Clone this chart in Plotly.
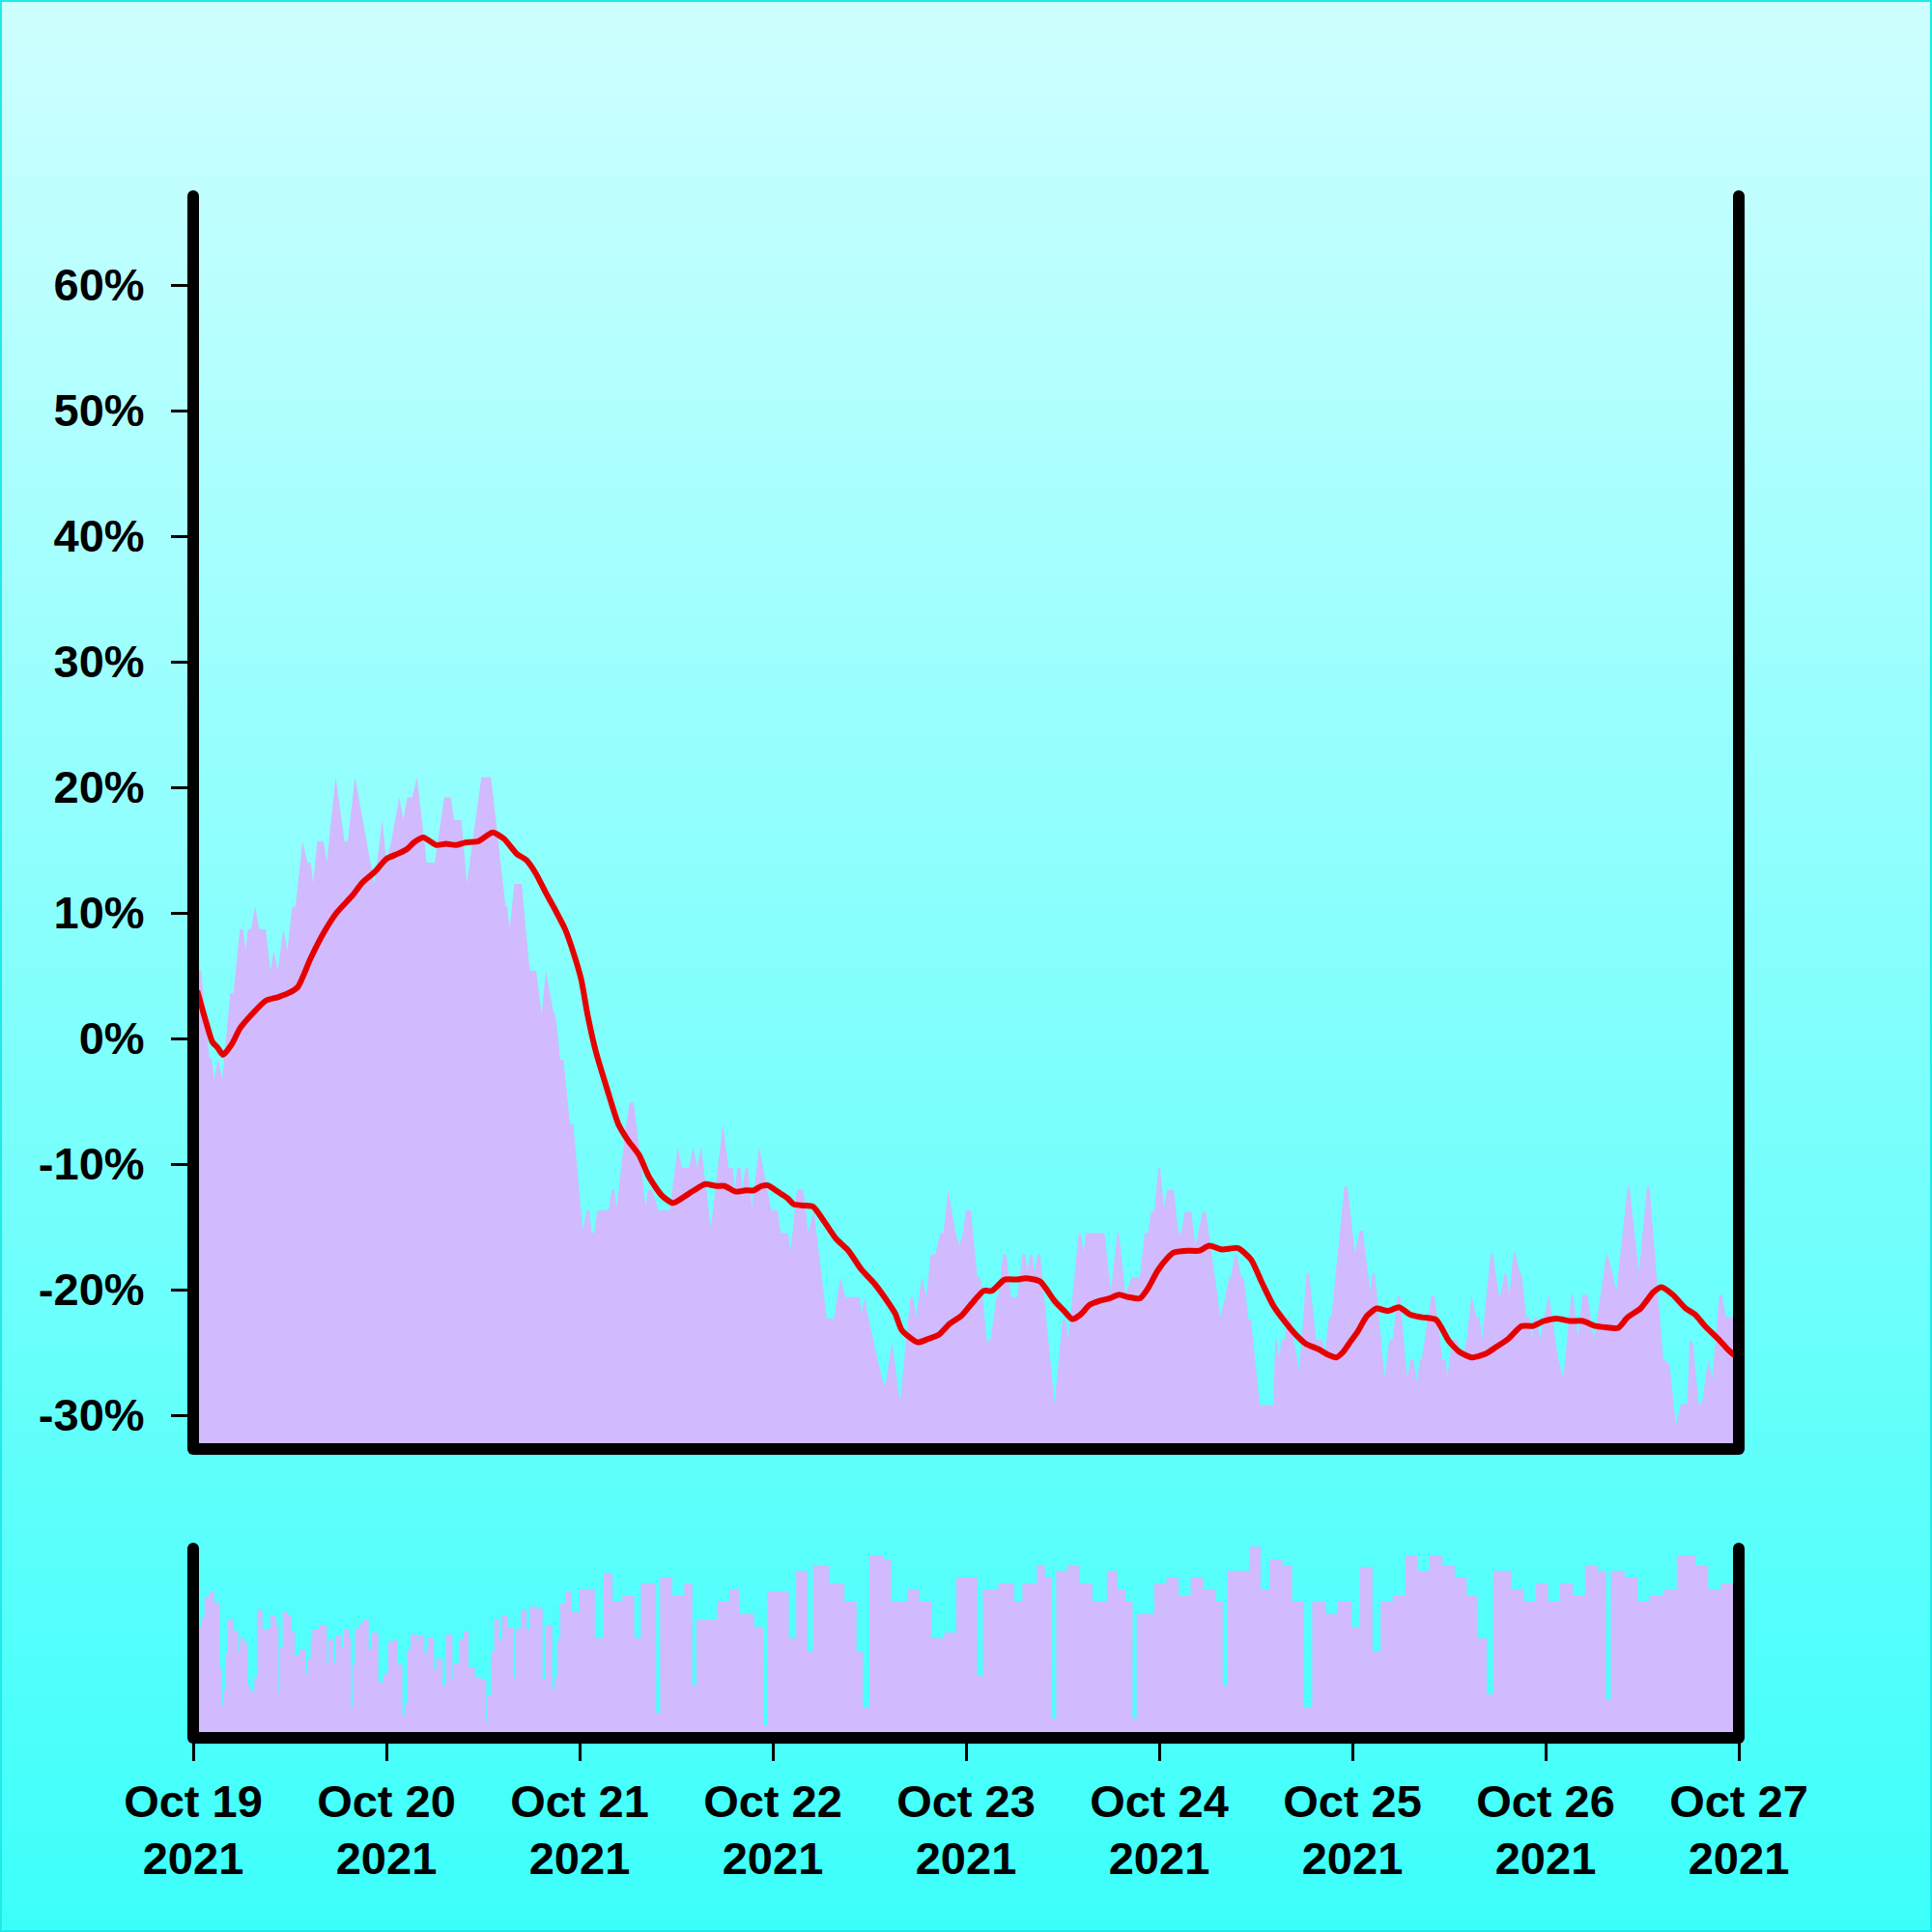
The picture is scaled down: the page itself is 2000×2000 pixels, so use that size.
import plotly.graph_objects as go
from datetime import datetime, timedelta

START = datetime(2021, 10, 19)

# ---- main series: % change, vertices (hours since Oct 19 00:00) ----
area_hours = [0, 1.0, 2.0, 2.3, 2.6, 3.1, 3.6, 4.6, 5.0, 5.8, 6.2, 6.5, 6.8, 7.2, 7.7, 8.2, 9.0, 9.6, 10.0, 10.5,
              11.2, 11.7, 12.3, 12.7, 13.6, 14.2, 14.6, 14.9, 15.4, 16.2, 16.6, 17.7, 18.8, 19.2, 20.1, 22.0, 22.5,
              23.5, 24.0, 24.6, 25.6, 26.1, 26.6, 27.2, 27.8, 29.0, 30.0, 31.2, 32.0, 32.4, 33.3, 34.0, 35.8, 37.0,
              38.8, 39.0, 39.3, 39.9, 40.8, 41.8, 42.6, 43.3, 43.8, 44.8, 45.0, 45.6, 46.0, 46.8, 47.2,
              48.4, 48.9, 49.2, 49.5, 49.8, 50.2, 51.6, 52.0, 52.3, 52.6, 53.8, 54.2, 54.7, 55.4, 56.2, 56.5, 57.0,
              57.8, 59.2, 60.2, 60.7, 61.6, 62.1, 62.6, 63.1, 64.3, 65.8, 66.5, 67.0, 67.3, 67.6, 68.0, 68.2, 68.6,
              68.9, 69.4, 70.3, 71.8, 72.6, 73.0, 73.9, 74.2, 75.0, 75.8, 76.4, 77.1, 78.7, 79.6, 80.4, 81.0, 82.8,
              83.0, 83.4, 83.9, 85.1, 85.8, 86.0, 86.8, 87.8, 89.1, 89.4, 89.8, 90.5, 91.1, 91.6, 92.2, 92.8, 93.2,
              93.8, 94.7, 95.2, 95.6,
              96.0, 96.6, 97.4, 97.8, 98.6, 99.0, 99.8, 100.0, 100.6, 101.0, 101.6, 102.4, 103.0, 103.4, 103.6,
              104.0, 104.2, 104.5, 104.9, 105.2, 107.0, 108.0, 108.4, 108.7, 110.0, 110.2, 110.6, 110.9, 113.2,
              114.0, 114.8, 115.0, 115.8, 116.6, 117.6, 118.2, 118.6, 119.0, 119.4, 119.9, 120.1, 120.6, 121.0,
              121.8, 122.4, 122.7, 123.2, 124.0, 124.5, 125.4, 125.8, 127.6, 128.2, 128.7, 128.9, 129.4, 129.6,
              130.2, 130.5, 131.1, 131.4, 132.5, 134.2, 134.4, 134.6, 134.9, 135.2, 135.6, 136.0, 136.2, 137.4,
              138.3, 138.6, 139.5, 140.2, 140.6, 141.1, 141.4, 143.0, 143.4, 144.3, 144.9, 145.3, 146.2, 146.5,
              146.8, 148.0, 148.6, 149.0, 149.6, 149.9, 150.8, 151.2, 151.6, 152.0, 152.4, 152.6, 153.8, 154.2,
              155.2, 155.6, 155.8, 156.4, 157.0, 157.6, 158.2, 158.8, 159.4, 159.8, 160.1, 161.2, 161.4, 162.2,
              162.4, 162.9, 163.1, 163.5, 164.0, 164.2, 164.8, 165.0, 165.6, 166.0, 166.3, 166.6, 166.9, 167.3,
              168.4, 168.8, 169.6, 170.2, 171.2, 171.4, 172.0, 172.6, 173.2, 174.0, 174.4, 175.6, 176.3, 176.8,
              178.2, 178.4, 179.6, 180.6, 180.9, 182.6, 183.4, 184.2, 184.8, 185.6, 185.9, 186.3, 187.0, 187.4,
              188.2, 188.7, 189.6, 189.9, 190.4, 192.0]
area_pct = [5.4, 5.4, -1.6, -1.6, -3.3, -1.6, -3.3, 3.6, 3.6, 8.7, 8.7, 7.0, 8.7, 8.7, 10.5, 8.7, 8.7, 5.4, 7.0, 5.4,
            8.7, 7.0, 10.5, 10.5, 15.7, 14.0, 14.0, 12.3, 15.7, 15.7, 14.0, 20.8, 15.7, 15.7, 20.8, 14.0, 12.3,
            17.4, 14.0, 15.7, 19.2, 17.4, 19.2, 19.2, 20.8, 14.0, 14.0, 19.2, 19.2, 17.4, 17.4, 12.3, 20.8, 20.8,
            10.5, 10.5, 8.7, 12.3, 12.3, 5.4, 5.4, 1.9, 5.4, 1.9, 1.9, -1.7, -1.7, -6.8, -6.8,
            -15.3, -13.7, -13.7, -15.5, -15.5, -13.7, -13.7, -12.05, -12.05, -13.5, -6.8, -5.1, -5.1, -8.6, -13.5,
            -12.05, -12.05, -13.7, -13.7, -8.6, -10.3, -10.3, -8.6, -10.3, -8.6, -15.1, -6.8, -10.3, -10.3, -12.05,
            -10.3, -10.3, -12.05, -10.3, -10.3, -13.5, -8.6, -13.7, -13.7, -15.5, -15.5, -16.9, -12.05, -12.05,
            -15.5, -13.7, -22.3, -22.3, -19.0, -20.6, -20.6, -22.05, -20.6, -22.3, -25.8, -27.6, -27.6, -24.1,
            -29.0, -20.6, -20.6, -22.2, -19.0, -20.6, -17.2, -17.2, -15.5, -15.5, -12.05, -15.5, -16.5, -15.5,
            -13.7, -13.7, -19.0, -19.0, -24.1, -24.1, -20.6, -20.6, -17.2, -17.2, -20.6, -20.6, -17.2, -17.2,
            -18.6, -17.2, -17.2, -18.6, -17.2, -17.2, -29.1, -22.4, -22.4, -24.0, -15.5, -15.5, -17.05, -15.5,
            -15.5, -20.1, -15.5, -15.5, -20.4, -19.0, -19.0, -15.5, -15.5, -13.8, -13.8, -10.3, -10.3, -13.5,
            -12.05, -12.05, -15.5, -15.5, -13.8, -13.8, -16.5, -13.8, -13.8, -22.2, -20.6, -19.0, -19.0, -17.2,
            -17.2, -19.0, -19.0, -22.4, -22.4, -29.2, -29.2, -24.0, -24.0, -25.5, -24.0, -24.0, -22.2, -22.2,
            -26.5, -18.7, -18.7, -24.0, -24.0, -25.0, -22.2, -22.2, -11.8, -11.8, -17.05, -15.3, -15.3, -20.1,
            -18.7, -18.7, -27.05, -24.0, -24.0, -20.5, -20.5, -27.05, -25.6, -25.6, -27.3, -25.6, -25.6, -20.5,
            -20.5, -25.6, -25.6, -27.05, -24.0, -24.0, -25.6, -24.0, -20.4, -22.2, -22.2, -24.0, -17.05, -17.05,
            -20.4, -20.4, -18.7, -18.7, -20.4, -17.05, -17.05, -18.7, -18.7, -22.2, -22.2, -24.0, -22.2, -22.2,
            -24.0, -20.4, -22.2, -25.6, -27.05, -20.4, -20.4, -23.8, -20.4, -20.4, -24.0, -22.2, -17.05, -18.7,
            -20.1, -11.8, -11.8, -18.6, -11.8, -11.8, -25.5, -26.0, -30.8, -29.1, -29.1, -24.0, -24.3, -29.1,
            -29.1, -25.6, -27.05, -20.4, -20.4, -22.2, -22.2]

# ---- moving average (red line) ----
ma_hours = [0.5, 1.6, 2.4, 3.0, 3.7, 4.8, 5.8, 7.4, 9.0, 10.6, 11.8, 13.0, 14.6, 16.2, 17.8, 19.8, 21.0, 22.6, 24.0,
            25.4, 26.6, 27.4, 28.6, 30.2, 31.4, 32.6, 33.8, 35.4, 37.2, 38.6, 40.2, 41.4, 42.6, 43.8, 45.0, 46.2,
            47.2, 48.2, 49.0, 50.0, 51.4, 52.8, 54.0, 55.4, 56.6, 58.2, 59.6, 61.0, 62.2, 63.6, 65.0, 66.0, 67.4,
            68.6, 69.6, 70.6, 71.4, 72.6, 73.8, 74.6, 75.8, 77.0, 78.2, 79.8, 81.4, 83.0, 84.6, 86.2, 87.2, 88.0,
            89.0, 90.0, 91.4, 92.6, 94.0, 95.4, 96.6, 98.2, 99.2, 100.8, 102.4, 103.4, 105.2, 107.0, 108.2, 109.2,
            110.2, 111.4, 112.6, 113.8, 115.0, 116.2, 117.6, 118.6, 119.8, 121.0, 121.8, 123.4, 125.0, 126.2,
            127.8, 129.8, 131.4, 132.8, 134.2, 135.8, 137.0, 138.2, 139.8, 141.0, 142.0, 142.8, 143.8, 144.6,
            145.8, 147.0, 148.4, 149.8, 151.2, 152.6, 154.4, 156.0, 157.4, 158.8, 160.6, 161.8, 163.4, 165.0,
            166.4, 167.8, 169.4, 171.0, 172.6, 174.2, 175.4, 177.0, 178.2, 179.8, 181.4, 182.4, 183.8, 185.4,
            186.6, 187.8, 189.4, 190.4, 191.2, 192.0]
ma_pct = [3.8, 1.3, -0.3, -0.7, -1.3, -0.45, 0.8, 2.0, 3.0, 3.3, 3.6, 4.1, 6.4, 8.4, 10.0, 11.4, 12.4, 13.3, 14.3,
          14.7, 15.1, 15.6, 16.0, 15.4, 15.5, 15.4, 15.6, 15.7, 16.4, 15.9, 14.7, 14.2, 13.1, 11.6, 10.2, 8.7,
          6.9, 4.7, 1.85, -1.0, -4.0, -6.8, -8.1, -9.3, -11.0, -12.5, -13.1, -12.6, -12.1, -11.6, -11.75, -11.75,
          -12.2, -12.1, -12.1, -11.75, -11.7, -12.2, -12.7, -13.2, -13.3, -13.4, -14.4, -15.9, -16.9, -18.4,
          -19.5, -20.9, -21.9, -23.2, -23.8, -24.2, -23.9, -23.6, -22.7, -22.1, -21.2, -20.1, -20.1, -19.2,
          -19.2, -19.1, -19.35, -20.9, -21.7, -22.35, -22.0, -21.2, -20.9, -20.7, -20.4, -20.6, -20.7, -19.9,
          -18.5, -17.5, -17.05, -16.9, -16.9, -16.5, -16.8, -16.7, -17.6, -19.5, -21.3, -22.7, -23.6, -24.3,
          -24.75, -25.2, -25.4, -25.0, -24.1, -23.4, -22.1, -21.5, -21.7, -21.4, -22.0, -22.2, -22.4, -24.1,
          -25.0, -25.4, -25.1, -24.6, -23.9, -22.9, -22.9, -22.5, -22.3, -22.5, -22.5, -22.9, -23.0, -23.05,
          -22.2, -21.5, -20.2, -19.8, -20.4, -21.5, -22.0, -22.9, -23.9, -24.6, -25.1, -25.5]

# ---- volume panel (step heights, arbitrary units) ----
vol_hours = [0, 1.0, 1.4, 2.0, 2.6, 3.28, 3.6, 3.8, 4.08, 4.32, 5.0, 5.6, 5.8, 6.4, 6.72, 7.12, 7.6, 7.92, 8.6, 9.4,
             9.6, 10.32, 10.6, 10.8, 11.12, 11.68, 12.2, 12.6, 13.2, 13.92, 14.2, 14.6, 14.8, 15.6, 16.2, 16.6, 16.8,
             17.4, 17.68, 18.4, 18.72, 19.4, 19.6, 19.8, 20.08, 20.6, 21.12, 21.8, 22.2, 23.0, 23.4, 23.6, 24.2,
             24.72, 25.4, 26.0, 26.32, 26.6, 27.0, 27.8, 28.0, 28.72, 29.0, 29.2, 29.92, 30.2, 31.0, 31.4, 32.2,
             32.4, 33.0, 33.6, 34.2, 35.0, 35.8, 36.4, 36.6, 37.0, 37.4, 38.0, 38.4, 39.0, 39.8, 40.0, 40.72, 41.4,
             41.8, 42.6, 43.4, 43.8, 44.6, 44.88, 45.2, 45.6, 46.2, 47.0,
             48.0, 49.9, 51.0, 52.1, 53.3, 54.8, 55.6, 57.5, 58.0, 59.5, 61.0, 62.0, 62.5, 65.1, 66.6, 67.8, 69.7,
             70.8, 71.3, 74.0, 74.9, 76.3, 77.0, 79.0, 80.9, 82.4, 83.2, 84.0, 85.8, 86.7, 88.7, 90.2, 91.7, 93.3,
             94.8, 97.4, 98.1, 100.0, 102.0, 103.0, 104.8, 105.8, 106.7, 107.2, 108.6, 110.1, 111.7, 113.5, 114.8,
             115.8, 116.7, 117.2, 119.4, 120.9, 122.4, 123.9, 125.5, 127.0, 127.9, 128.5, 131.2, 132.6, 133.7,
             135.3, 136.5, 138.0, 139.0, 140.7, 142.2, 143.9, 144.9, 146.5, 147.5, 149.0, 150.6, 152.1, 153.6,
             155.2, 156.7, 158.2, 159.5, 160.7, 161.5, 163.8, 165.3, 166.8, 168.3, 169.8, 171.4, 172.9, 174.5,
             175.5, 176.1, 177.8, 179.4, 180.9, 182.7, 184.3, 186.6, 188.2, 189.8, 192.0]
vol_values = [112, 122, 144, 150, 138, 71, 32, 47, 85, 121, 109, 88, 101, 96, 52, 46, 61, 130, 110, 112, 125, 114,
              45, 91, 129, 125, 108, 84, 90, 64, 80, 101, 110, 115, 114, 75, 100, 76, 104, 91, 110, 101, 30, 74,
              111, 117, 120, 89, 107, 57, 54, 64, 97, 99, 74, 22, 34, 89, 105, 99, 104, 85, 92, 102, 69, 80, 52,
              105, 58, 75, 100, 108, 71, 61, 58, 14, 42, 87, 121, 99, 125, 112, 60, 111, 130, 110, 134, 132, 58,
              115, 48, 60, 99, 137, 150, 128,
              152, 101, 168, 139, 145, 101, 158, 24, 164, 145, 158, 52, 120, 139, 152, 126, 113,
              11, 150, 101, 171, 88, 177, 158, 139, 88, 30, 187, 183, 139, 152, 139, 101, 107,
              164, 62, 152, 158, 139, 158, 177, 164, 18, 171, 177, 158, 139, 171, 152,
              139, 18, 126, 158, 164, 145, 164, 152, 139, 52, 171, 196, 152, 183,
              177, 139, 30, 139, 126, 139, 113, 175, 88, 139, 145, 187, 171, 187,
              177, 164, 145, 101, 43, 171, 152, 139, 158, 139, 158, 145, 177, 171,
              37, 171, 164, 139, 145, 152, 187, 177, 152, 158, 158]

tick_days = ["2021-10-19", "2021-10-20", "2021-10-21", "2021-10-22", "2021-10-23",
             "2021-10-24", "2021-10-25", "2021-10-26", "2021-10-27"]
y_tick_vals = [-0.3, -0.2, -0.1, 0.0, 0.1, 0.2, 0.3, 0.4, 0.5, 0.6]


def to_dt(hours):
    return [START + timedelta(hours=h) for h in hours]


area_x = to_dt(area_hours)
area_y = [v / 100 for v in area_pct]
ma_x = to_dt(ma_hours)
ma_y = [v / 100 for v in ma_pct]
vol_x = to_dt(vol_hours)
vol_y = vol_values
tick_dates = [datetime.strptime(d, "%Y-%m-%d") for d in tick_days]
day_text = [f"{d:%b} {d.day}" for d in tick_dates]
year_text = [f"{d.year}" for d in tick_dates]
y_tick_text = [f"{round(v * 100)}%" for v in y_tick_vals]  # plain hyphen minus

W = H = 2000
L, R, T, B = 200, 200, 197, 201
plot_w = W - L - R
plot_h = H - T - B
main_bottom_px = 1500
vol_top_px = 1597
main_dom = [(H - B - main_bottom_px) / plot_h, 1.0]
vol_dom = [0.0, (H - B - vol_top_px) / plot_h]

LAV = "#D1BAFE"
FONT = dict(family="Liberation Sans, Arial, sans-serif", size=47, color="black", weight="bold")

fig = go.Figure()
# baseline for area fill (well below visible range)
fig.add_trace(go.Scatter(x=[area_x[0], area_x[-1]], y=[-0.6, -0.6], mode="lines",
                         line=dict(width=0, color=LAV), hoverinfo="skip", showlegend=False))
fig.add_trace(go.Scatter(x=area_x, y=area_y, mode="lines", fill="tonexty", fillcolor=LAV,
                         line=dict(width=0, color=LAV), showlegend=False))
fig.add_trace(go.Scatter(x=ma_x, y=ma_y, mode="lines", line=dict(color="#E60000", width=6, shape="spline",
                                                                 smoothing=0.6), showlegend=False))
fig.add_trace(go.Scatter(x=vol_x, y=vol_y, mode="lines", fill="tozeroy", fillcolor=LAV,
                         line=dict(width=0, color=LAV, shape="hv"), xaxis="x2", yaxis="y2", showlegend=False))
# carrier for the second (year) row of date labels
fig.add_trace(go.Scatter(x=tick_dates, y=[None] * len(tick_dates), mode="markers", xaxis="x3", yaxis="y2",
                         hoverinfo="skip", showlegend=False))

# background gradient
shapes = []
N = 100
top_rgb = (207, 255, 255)
bot_rgb = (60, 255, 250)
for i in range(N):
    f = (i + 0.5) / N
    c = tuple(round(top_rgb[k] + (bot_rgb[k] - top_rgb[k]) * f) for k in range(3))
    y_top_px = H * i / N
    y_bot_px = H * (i + 1) / N + 1
    shapes.append(dict(type="rect", xref="paper", yref="paper", layer="below",
                       x0=-L / plot_w, x1=1 + R / plot_w,
                       y0=(H - B - y_bot_px) / plot_h, y1=(H - B - y_top_px) / plot_h,
                       fillcolor="rgb(%d,%d,%d)" % c, line=dict(width=0)))
# outer border
shapes.append(dict(type="rect", xref="paper", yref="paper", layer="above",
                   x0=(-L + 1) / plot_w, x1=1 + (R - 1) / plot_w,
                   y0=(H - B - H + 1) / plot_h, y1=(H - B - 1) / plot_h,
                   fillcolor="rgba(0,0,0,0)", line=dict(width=2, color="#1EEAEA")))

LW = 12


def frame(xr, yr, height_px):
    cap = (LW / 2) / height_px
    out = []
    for xx in (0, 1):
        out.append(dict(type="line", xref=xr, yref=yr, x0=xx, x1=xx, y0=0, y1=1 - cap,
                        line=dict(color="black", width=LW)))
        for yy in (0, 1 - cap):
            out.append(dict(type="circle", xref=xr, yref=yr, xsizemode="pixel", ysizemode="pixel",
                            xanchor=xx, yanchor=yy, x0=-LW / 2, x1=LW / 2, y0=-LW / 2, y1=LW / 2,
                            fillcolor="black", line=dict(width=0)))
    out.append(dict(type="line", xref=xr, yref=yr, x0=0, x1=1, y0=0, y1=0,
                    line=dict(color="black", width=LW)))
    return out


shapes += frame("x domain", "y domain", main_bottom_px - T)
shapes += frame("x2 domain", "y2 domain", H - B - vol_top_px)

xrange = [tick_dates[0], tick_dates[-1]]
fig.update_layout(
    width=W, height=H,
    margin=dict(l=L, r=R, t=T, b=B, pad=0),
    paper_bgcolor="rgba(0,0,0,0)", plot_bgcolor="rgba(0,0,0,0)",
    showlegend=False, font=FONT, shapes=shapes,
    xaxis=dict(domain=[0, 1], anchor="y", range=xrange, showticklabels=False,
               ticks="", showgrid=False, zeroline=False, showline=False, type="date"),
    yaxis=dict(domain=main_dom, anchor="x", range=[(1075 - 1500) / 1300, (1075 - 197) / 1300],
               tickvals=y_tick_vals, ticktext=y_tick_text, ticks="outside", ticklen=22, tickwidth=3,
               tickcolor="black", showgrid=False, zeroline=False, showline=False, tickfont=FONT,
               ticklabelstandoff=18),
    xaxis2=dict(domain=[0, 1], anchor="y2", matches="x", range=xrange,
                tickvals=tick_dates, ticktext=day_text, ticks="outside", ticklen=23, tickwidth=3,
                tickcolor="black", showgrid=False, zeroline=False, showline=False, tickfont=FONT,
                type="date", ticklabelstandoff=2),
    xaxis3=dict(domain=[0, 1], anchor="y2", overlaying="x2", matches="x", range=xrange, side="bottom",
                tickvals=tick_dates, ticktext=year_text, ticks="", showgrid=False, zeroline=False,
                showline=False, tickfont=FONT, type="date", ticklabelstandoff=93),
    yaxis2=dict(domain=vol_dom, anchor="x2", range=[-2, 200], showticklabels=False, ticks="",
                showgrid=False, zeroline=False, showline=False),
)

fig.write_html("out.html", config={"displayModeBar": False},
               post_script="document.body.style.margin='0px';")
